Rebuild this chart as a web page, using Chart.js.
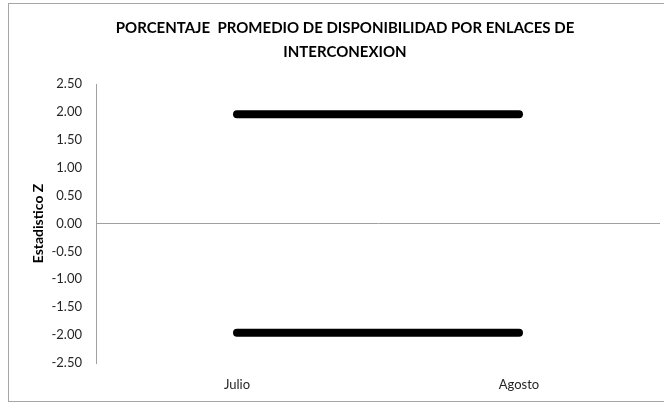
<!DOCTYPE html>
<html>
<head>
<meta charset="utf-8">
<script src="https://cdn.jsdelivr.net/npm/chart.js@4"></script>
<style>
    html, body { margin: 0; padding: 0; background: #fff; overflow: hidden; }
    #marco {
        position: absolute;
        left: 8px;
        top: 3px;
        width: 672px;
        height: 397px;
        border: 1px solid #a6a6a6;
        background: #fff;
    }
</style>
</head>
<body>
<div id="marco"><canvas id="grafico"></canvas></div>
<script>
const meses = ["Julio", "Agosto"];
const limiteSuperior = [1.96, 1.96];
const limiteInferior = [-1.96, -1.96];
const titulo = ["PORCENTAJE  PROMEDIO DE DISPONIBILIDAD POR ENLACES DE", "INTERCONEXION"];
const tituloEjeY = "Estadistico Z";

const fuente = "Lato, 'Open Sans', sans-serif";

/* GRAFICO */
new Chart(document.getElementById("grafico"), {
    type: "line",
    data: {
        labels: meses,
        datasets: [
            {
                label: "Superior",
                data: limiteSuperior,
                borderColor: "#000",
                borderWidth: 8,
                borderCapStyle: "round",
                pointRadius: 0
            },
            {
                label: "Inferior",
                data: limiteInferior,
                borderColor: "#000",
                borderWidth: 8,
                borderCapStyle: "round",
                pointRadius: 0
            }
        ]
    },
    options: {
        responsive: true,
        maintainAspectRatio: false,
        animation: false,
        layout: { padding: { right: 21, top: 0, left: 21, bottom: 0 } },
        plugins: {
            legend: { display: false },
            tooltip: { enabled: false },
            title: {
                display: true,
                text: titulo,
                color: "#000",
                font: { family: fuente, size: 15, weight: "bold", lineHeight: 1.6 },
                padding: { top: 12, bottom: 20 }
            }
        },
        scales: {
            x: {
                offset: true,
                grid: { display: false },
                border: { display: false },
                ticks: {
                    color: "#262626",
                    font: { family: fuente, size: 13 },
                    padding: 6
                },
                afterFit: s => { s.height = 38; }
            },
            y: {
                min: -2.5,
                max: 2.5,
                border: { display: true, color: "#a0a0a0", width: 1 },
                grid: {
                    drawTicks: false,
                    color: c => c.tick && c.tick.value === 0 ? "#a0a0a0" : "rgba(0,0,0,0)",
                    lineWidth: 1
                },
                ticks: {
                    stepSize: 0.5,
                    color: "#262626",
                    font: { family: fuente, size: 13 },
                    padding: 14,
                    callback: v => v.toFixed(2)
                },
                title: {
                    display: true,
                    text: tituloEjeY,
                    color: "#000",
                    font: { family: fuente, size: 14, weight: "bold" },
                    padding: { top: 0, bottom: 0 }
                },
                afterFit: s => { s.width = 66; }
            }
        }
    }
});
</script>
</body>
</html>
